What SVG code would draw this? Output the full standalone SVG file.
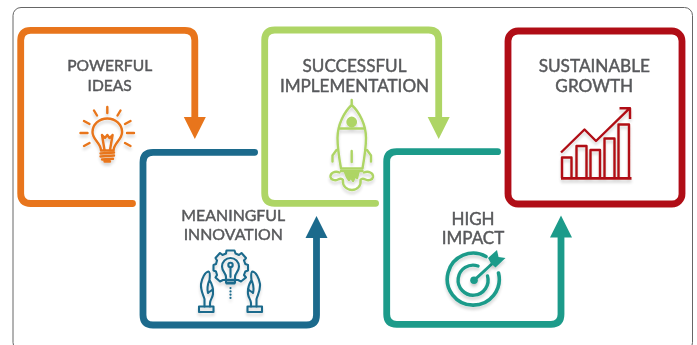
<svg xmlns="http://www.w3.org/2000/svg" width="697" height="345" viewBox="0 0 697 345">
<style>
text{font-family:Lato,"Open Sans","Liberation Sans",sans-serif;font-size:15.6px;font-weight:400;fill:#58595b;stroke:#58595b;stroke-width:0.45;text-anchor:middle;filter:url(#soft)}
.c{fill:none;stroke-width:6.8;stroke-linecap:round;stroke-linejoin:round}
.i{fill:none;stroke-width:2.4;stroke-linecap:round;stroke-linejoin:round}
.or{stroke:#e8751a}.bl{stroke:#1b6a8c}.gr{stroke:#aed565}.te{stroke:#1e9b8a}.re{stroke:#b01116}
.b{filter:url(#soft)}
</style>
<defs>
<filter id="soft" x="-10%" y="-20%" width="120%" height="140%"><feGaussianBlur stdDeviation="0.45"/></filter>
<filter id="icon" x="-20%" y="-20%" width="140%" height="150%"><feGaussianBlur stdDeviation="0.45" result="a"/><feOffset in="SourceAlpha" dy="2.5"/><feGaussianBlur stdDeviation="1.5"/><feComponentTransfer><feFuncA type="linear" slope="0.16"/></feComponentTransfer><feMerge><feMergeNode/><feMergeNode in="a"/></feMerge></filter>
<marker id="mo" markerUnits="userSpaceOnUse" markerWidth="24" markerHeight="24" refX="0" refY="12" orient="auto"><path d="M0 1L22 12L0 23z" fill="#e8751a"/></marker>
<marker id="mb" markerUnits="userSpaceOnUse" markerWidth="24" markerHeight="24" refX="0" refY="12" orient="auto"><path d="M0 1L22 12L0 23z" fill="#1b6a8c"/></marker>
<marker id="mg" markerUnits="userSpaceOnUse" markerWidth="24" markerHeight="24" refX="0" refY="12" orient="auto"><path d="M0 1L22 12L0 23z" fill="#aed565"/></marker>
<marker id="mt" markerUnits="userSpaceOnUse" markerWidth="24" markerHeight="24" refX="0" refY="12" orient="auto"><path d="M0 1L22 12L0 23z" fill="#1e9b8a"/></marker>
</defs>
<rect width="697" height="345" fill="#fff"/>
<rect x="13" y="7.500" width="679.500" height="343" rx="8" fill="#fff" stroke="#666" stroke-width="1"/>
<g id="connectors" class="b">
<path class="c gr" marker-end="url(#mg)" d="M375.600 203.300H274.700Q264.700 203.300 264.700 193.300V40Q264.700 30 274.700 30H428.700Q438.700 30 438.700 40V117"/>
<path class="c or" marker-end="url(#mo)" d="M132.500 203.500H30.700Q20.700 203.500 20.700 193.500V40.300Q20.700 30.300 30.700 30.300H184.800Q194.800 30.300 194.800 40.300V117"/>
<path class="c bl" marker-end="url(#mb)" d="M254.600 152.300H153Q143 152.300 143 162.300V315Q143 325 153 325H306.500Q316.500 325 316.500 315V238"/>
<path class="c te" marker-end="url(#mt)" d="M497.600 151.700H396.700Q386.700 151.700 386.700 161.700V314.300Q386.700 324.300 396.700 324.300H551Q561 324.300 561 314.300V237.500"/>
</g>
<g id="powerful-ideas">
<text x="109.700" y="71">POWERFUL</text><text x="109.700" y="90.500">IDEAS</text>
<g class="i or" filter="url(#icon)">
<path d="M107.300 107V113M94 110.500L97 115.500M120.500 110.500L117.500 115.500M84 121L89.500 124M130.500 121L125 124M80.500 133H87.500M127 133H134M84 146L89.500 143M130.500 146L125 143"/>
<path d="M101 150.500C101 143 92.500 140 92.500 132A14.800 13.500 0 0 1 122.100 132C122.100 140 113.600 143 113.600 150.500Z"/>
<path d="M102 135L104.500 150M112.600 135L110 150M102 135L105 138L107.300 135L109.500 138L112.600 135"/>
<path d="M100.500 153.500L114 152.500M100.500 156.500L114 155.500M102 159.500L113 158.800M104.500 161.500H110"/>
</g></g>
<g id="meaningful-innovation">
<text x="233.300" y="220.500" style="font-size:15.900px">MEANINGFUL</text><text x="233.300" y="240" style="font-size:15.900px">INNOVATION</text>
<g class="i bl" style="stroke-width:2.100" filter="url(#icon)">
<path d="M226.500 250.500H234.500L235.500 253.500L239 255L241.500 253L246 258L244 260.500L245.300 264L248 265V270.500L245.300 271.500L244 275L246 277.500L241 281.500L238 280H223L220 281.500L215.500 277.500L217 275L216 271.500L213.500 270.500V265L216 264L217 260.500L215.500 258L220 253L222.500 255L226 253.500Z"/>
<path d="M226 282.500V277C226 273 222 271.500 222 266.500A8.500 8.500 0 0 1 239 266.500C239 271.500 235 273 235 277V282.500Z"/>
<circle cx="230.500" cy="265" r="2.200"/><path d="M230.500 267.500V277M225 279.800H236M226.500 283.500H234.500"/>
<path d="M230.500 288V300" stroke-dasharray="0.100 3.200" style="stroke-width:2.200"/>
<path d="M204.500 306.500V299C202.500 293 200.500 290 201 284C202 278 205 272 208.500 271.500C210 272 210 276 209.500 280C212 284 213.500 289 213 294C212.500 298 210 300 210 303V306.500M209 281C207.500 285 207 289 208 293C210 291 212 291 213 289"/>
<rect x="199" y="306.500" width="14.500" height="5.500"/>
<path d="M256.500 306.500V299C258.500 293 260.500 290 260 284C259 278 256 272 252.500 271.500C251 272 251 276 251.500 280C249 284 247.500 289 248 294C248.500 298 251 300 251 303V306.500M252 281C253.500 285 254 289 253 293C251 291 249 291 248 289"/>
<rect x="247.500" y="306.500" width="14.500" height="5.500"/>
</g></g>
<g id="successful-implementation">
<text x="354.500" y="72" style="font-size:17.100px">SUCCESSFUL</text><text x="354.500" y="91.500" style="font-size:17.100px">IMPLEMENTATION</text>
<g class="i gr" filter="url(#icon)">
<path d="M351.700 100V105M351.700 105C344 112 337.500 125 337.500 138C337.500 148 339.500 160 341 168.500H362.500C364 160 366 148 366 138C366 125 359.500 112 351.700 105Z"/>
<path d="M339.500 128.500H364M351.700 151V162M336.500 150L332.500 155.500L332.500 161.500M367 150L371 155.500V161.500M341 171H362.500"/>
<circle cx="351.700" cy="122" r="4.200" fill="#aed565"/>
<path d="M345 172H358.500L357 178L355 176L353 181L351 177L349 180L347 177Z" fill="#aed565"/>
<path d="M339.500 172.500C335 170.500 330 173 330.500 177C331 180 335 181 338 179.500C340 178.500 342 178.500 343 180C342 186 347 190 352 190C357 190 361.500 186 360.500 180C361.500 178.500 363.500 178.500 365.500 179.500C368.500 181 372.500 180 373 177C373.500 173 368.500 170.500 364 172.500"/>
</g></g>
<g id="high-impact">
<text x="473" y="224.500" style="font-size:17px">HIGH</text><text x="473" y="243.500" style="font-size:17px">IMPACT</text>
<g class="i te" style="stroke-width:3.600" filter="url(#icon)">
<path d="M486 256.500A26 26 0 1 0 498.500 273"/>
<path d="M478 266A15 15 0 1 0 487.500 276" style="stroke-width:3.400"/>
<path d="M474 280.300L494 262" style="stroke-width:3"/>
</g>
<g filter="url(#icon)" fill="#1e9b8a"><circle cx="474" cy="280.300" r="3.800"/><path d="M488 258L497 250L498.500 257L505.500 258L495.500 267.500L491 263.500Z"/></g>
</g>
<g id="sustainable-growth">
<rect class="c re b" x="508" y="31" width="174" height="173" rx="10"/>
<text x="594.300" y="72" style="font-size:17.200px">SUSTAINABLE</text><text x="594.300" y="91.500" style="font-size:17.200px">GROWTH</text>
<g class="i re" style="stroke-linecap:butt" filter="url(#icon)">
<path d="M561 178.300H631.500" style="stroke-width:2.800"/>
<path d="M562 178V157.500H571.500V178M576.500 178V146H586.500V178M590.500 178V150H600V178M604.500 178V138.500H614.500V178M618.500 178V124.500H629V178"/>
<path d="M561 152.500L584.500 129.500L596 141L629.500 108.300M619.500 108.300H630V119"/>
</g></g>
</svg>
